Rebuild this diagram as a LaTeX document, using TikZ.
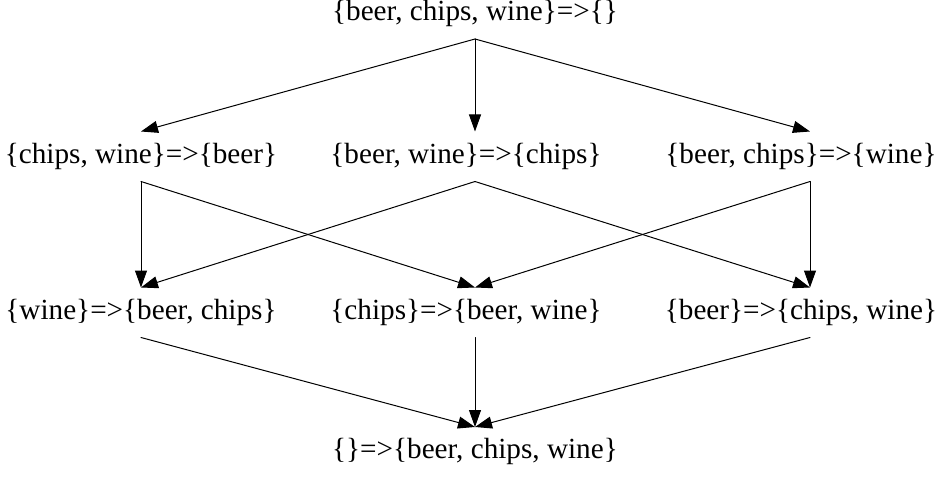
\documentclass[tikz,border=0pt]{standalone}
\usepackage{fontspec}
\setmainfont{Liberation Serif}
\usepackage{tikz}
\usetikzlibrary{arrows.meta}

\tikzset{rule/.style={inner sep=0pt,minimum height=24.5pt,text height=0.75em,text depth=0.07em,font=\fontsize{14.6pt}{16pt}\selectfont}}

\begin{document}
\begin{tikzpicture}[line cap=round,line join=round,>={Triangle[length=8.5pt,width=6pt]},x=0.5pt,y=-0.5pt,line width=0.5pt]
\useasboundingbox (0,0) rectangle (938,481);
\node [rule] (bcw) at (475,14) {\{beer, chips, wine\}=>\{\}};
\node [rule] (cw) at (141,156.5) {\{chips, wine\}=>\{beer\}};
\node [rule] (bw) at (466,156.5) {\{beer, wine\}=>\{chips\}};
\node [rule] (bc) at (801,156.5) {\{beer, chips\}=>\{wine\}};
\node [rule] (w) at (141,312.5) {\{wine\}=>\{beer, chips\}};
\node [rule] (c) at (466,312.5) {\{chips\}=>\{beer, wine\}};
\node [rule] (b) at (801,312.5) {\{beer\}=>\{chips, wine\}};
\node [rule] (none) at (475,452) {\{\}=>\{beer, chips, wine\}};
\draw [->] (bcw.south)-- (cw.north);
\draw [->] (bcw.south)-- ([xshift=4.5pt]bw.north);
\draw [->] (bcw.south)-- ([xshift=4.5pt]bc.north);
\draw [->] (cw.south)-- (w.north);
\draw [->] (cw.south)-- ([xshift=4.5pt]c.north);
\draw [->] ([xshift=4.5pt]bw.south)-- (w.north);
\draw [->] ([xshift=4.5pt]bw.south)-- ([xshift=4.5pt]b.north);
\draw [->] ([xshift=4.5pt]bc.south)-- ([xshift=4.5pt]c.north);
\draw [->] ([xshift=4.5pt]bc.south)-- ([xshift=4.5pt]b.north);
\draw [->] (w.south)-- (none.north);
\draw [->] ([xshift=4.5pt]c.south)-- (none.north);
\draw [->] ([xshift=4.5pt]b.south)-- (none.north);
\end{tikzpicture}
\end{document}
